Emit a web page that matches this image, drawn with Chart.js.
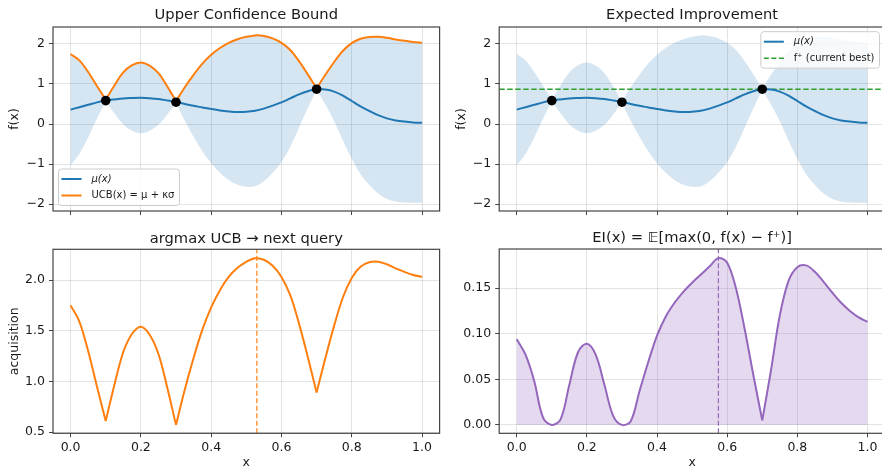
<!DOCTYPE html>
<html>
<head>
<meta charset="utf-8">
<script src="https://cdn.jsdelivr.net/npm/chart.js@4.4.0/dist/chart.umd.min.js"></script>
<style>
body { margin: 0; background: #fff; overflow: hidden; width: 882px; height: 470px; position: relative; }
canvas { position: absolute; }
</style>
</head>
<body>
<canvas id="ucbTop" width="445" height="235" style="left:0;top:0"></canvas>
<canvas id="eiTop" width="445" height="235" style="left:445px;top:0"></canvas>
<canvas id="ucbAcq" width="445" height="255" style="left:0;top:215px"></canvas>
<canvas id="eiAcq" width="445" height="255" style="left:445px;top:215px"></canvas>
<script>
// values
const xs = [0, 0.025, 0.05, 0.075, 0.1, 0.125, 0.15, 0.175, 0.2, 0.225, 0.25, 0.275, 0.3, 0.325, 0.35, 0.375, 0.4, 0.425, 0.45, 0.475,
            0.5, 0.525, 0.55, 0.575, 0.6, 0.625, 0.65, 0.675, 0.7, 0.725, 0.75, 0.775, 0.8, 0.825, 0.85, 0.875, 0.9, 0.925, 0.95, 0.975, 1.0];
const mu = [0.36, 0.42, 0.48, 0.54, 0.585, 0.615, 0.64, 0.65, 0.655, 0.645, 0.625, 0.59, 0.55, 0.50, 0.455, 0.415, 0.375, 0.34, 0.315, 0.30,
            0.305, 0.33, 0.385, 0.46, 0.54, 0.64, 0.74, 0.82, 0.87, 0.86, 0.81, 0.71, 0.575, 0.44, 0.325, 0.22, 0.14, 0.09, 0.06, 0.04, 0.03];
const ucb = [1.75, 1.59, 1.30, 0.95, 0.61, 0.97, 1.29, 1.47, 1.54, 1.46, 1.27, 0.94, 0.57, 0.92, 1.23, 1.51, 1.73, 1.90, 2.03, 2.12,
             2.18, 2.215, 2.20, 2.14, 2.03, 1.85, 1.57, 1.24, 0.89, 1.23, 1.55, 1.83, 2.02, 2.13, 2.175, 2.18, 2.155, 2.115, 2.08, 2.05, 2.03];
const lower = [-1.03, -0.75, -0.34, 0.13, 0.56, 0.26, -0.01, -0.17, -0.23, -0.17, -0.02, 0.24, 0.53, 0.08, -0.32, -0.68, -0.98, -1.22, -1.40, -1.52,
               -1.57, -1.555, -1.43, -1.22, -0.95, -0.57, -0.09, 0.40, 0.85, 0.49, 0.07, -0.41, -0.87, -1.25, -1.525, -1.74, -1.875, -1.935, -1.96, -1.97, -1.97];
const ei = [0.094, 0.077, 0.048, 0.008, 0.0, 0.006, 0.044, 0.080, 0.089, 0.077, 0.044, 0.010, 0.0, 0.004, 0.037, 0.069, 0.098, 0.119, 0.134, 0.146,
            0.156, 0.165, 0.174, 0.183, 0.178, 0.150, 0.105, 0.054, 0.005, 0.060, 0.120, 0.158, 0.173, 0.175, 0.168, 0.157, 0.145, 0.134, 0.125, 0.118, 0.113];
const obsX = [0.1, 0.3, 0.7];
const obsY = [0.585, 0.545, 0.87];
const fBest = 0.87;
const ucbNext = 0.53;
const eiNext = 0.575;

const xTicks = [0, 0.2, 0.4, 0.6, 0.8, 1.0];
const fTicks = [-2, -1, 0, 1, 2];
const acqTicks = [0.5, 1.0, 1.5, 2.0];
const eiTicks = [0, 0.05, 0.10, 0.15];

const BLUE = '#1f77b4', ORANGE = '#ff7f0e', GREEN = '#2ca02c', PURPLE = '#9467bd';
const BAND = 'rgba(31,119,180,0.19)';
const EIFILL = 'rgba(148,103,189,0.25)';
const GRID = 'rgba(176,176,176,0.35)';
const TICK = '#444';
const TXT = '#1a1a1a';
const FONT = '"DejaVu Sans", sans-serif';
const NONE = 'rgba(0,0,0,0)';
const TENSION = 0.35;

Chart.defaults.font.family = FONT;
Chart.defaults.font.size = 12.5;
Chart.defaults.color = TXT;

const pts = ys => xs.map((x, i) => ({x: x, y: ys[i]}));
const obsPts = obsX.map((x, i) => ({x: x, y: obsY[i]}));
const fmtMinus = d => v => (v < 0 ? '\u2212' : '') + Math.abs(v).toFixed(d);

// curves with kinks at observations: each piece between kinks is its own smooth line
const obsIdx = obsX.map(x => xs.indexOf(x));
function pieces(vals, idx) {
  const cuts = [0, ...idx, xs.length - 1];
  const out = [];
  for (let k = 0; k < cuts.length - 1; k++) {
    out.push(xs.slice(cuts[k], cuts[k + 1] + 1).map((x, j) => ({x: x, y: vals[cuts[k] + j]})));
  }
  return out;
}
function boundLines(color) {
  return pieces(ucb, obsIdx).map(p => ({label: 'UCB', data: p, borderColor: color, borderWidth: 2, pointRadius: 0, tension: TENSION}));
}
function bandSets() {
  const up = pieces(ucb, obsIdx), lo = pieces(lower, obsIdx), out = [];
  up.forEach((p, k) => {
    out.push({label: 'band', data: p, borderColor: NONE, borderWidth: 1, pointRadius: 0, tension: TENSION,
              fill: '+1', backgroundColor: BAND});
    out.push({label: 'band', data: lo[k], borderColor: NONE, borderWidth: 1, pointRadius: 0, tension: TENSION});
  });
  return out;
}
function eiLines() {
  return pieces(ei, [xs.indexOf(0.7)]).map(p => ({label: 'EI', data: p, borderColor: PURPLE, borderWidth: 2, pointRadius: 0,
                                                  tension: TENSION, fill: 'origin', backgroundColor: EIFILL}));
}

// frame, title and in-axes legend, drawn like matplotlib
const decor = {
  id: 'decor',
  afterDraw(chart, args, opts) {
    const ctx = chart.ctx, a = chart.chartArea;
    ctx.save();
    ctx.strokeStyle = '#444';
    ctx.lineWidth = 1.2;
    ctx.strokeRect(a.left, a.top, a.right - a.left, a.bottom - a.top);

    ctx.fillStyle = TXT;
    ctx.font = '14.7px ' + FONT;
    ctx.textAlign = 'center';
    ctx.textBaseline = 'middle';
    ctx.fillText(opts.title, (a.left + a.right) / 2, a.top - opts.gap);

    if (opts.legend) {
      const items = opts.legend.items;
      ctx.font = '10px ' + FONT;
      const tw = Math.max(...items.map(it => ctx.measureText(it.text).width));
      const w = 33 + tw + 5, h = 20 + (items.length - 1) * 16.5;
      const x0 = opts.legend.corner === 'lowerLeft' ? a.left + 5.5 : a.right - 5.5 - w;
      const y0 = opts.legend.corner === 'lowerLeft' ? a.bottom - 5.5 - h : a.top + 4.7;
      const r = 3;
      ctx.beginPath();
      ctx.moveTo(x0 + r, y0);
      ctx.lineTo(x0 + w - r, y0);
      ctx.arcTo(x0 + w, y0, x0 + w, y0 + r, r);
      ctx.lineTo(x0 + w, y0 + h - r);
      ctx.arcTo(x0 + w, y0 + h, x0 + w - r, y0 + h, r);
      ctx.lineTo(x0 + r, y0 + h);
      ctx.arcTo(x0, y0 + h, x0, y0 + h - r, r);
      ctx.lineTo(x0, y0 + r);
      ctx.arcTo(x0, y0, x0 + r, y0, r);
      ctx.closePath();
      ctx.fillStyle = 'rgba(255,255,255,0.8)';
      ctx.fill();
      ctx.strokeStyle = '#cccccc';
      ctx.lineWidth = 1;
      ctx.stroke();
      items.forEach((it, i) => {
        const cy = y0 + 10 + i * 16.5;
        ctx.strokeStyle = it.color;
        ctx.lineWidth = it.width;
        ctx.setLineDash(it.dash || []);
        ctx.beginPath();
        ctx.moveTo(x0 + 3, cy);
        ctx.lineTo(x0 + 23, cy);
        ctx.stroke();
        ctx.setLineDash([]);
        ctx.fillStyle = TXT;
        ctx.textAlign = 'left';
        ctx.font = (it.italic ? 'italic ' : '') + '10px ' + FONT;
        ctx.fillText(it.text, x0 + 33, cy);
      });
    }
    ctx.restore();
  }
};

function xScale(showLabels, height) {
  return {
    type: 'linear', min: -0.05, max: 1.05,
    afterBuildTicks: s => { s.ticks = xTicks.map(v => ({value: v})); },
    afterFit: s => { s.height = height; },
    grid: {color: GRID, tickColor: TICK, tickLength: 4},
    border: {display: false},
    ticks: {display: showLabels, callback: v => v.toFixed(1), padding: 3, autoSkip: false, maxRotation: 0},
    title: {display: showLabels, text: 'x', padding: {top: 0, bottom: 0}}
  };
}

function yScale(min, max, ticks, fmt, width, title, titlePad) {
  return {
    type: 'linear', min: min, max: max,
    afterBuildTicks: s => { s.ticks = ticks.map(v => ({value: v})); },
    afterFit: s => { s.width = width; },
    grid: {color: GRID, tickColor: TICK, tickLength: 4},
    border: {display: false},
    ticks: {callback: fmt, padding: 4, autoSkip: false},
    title: {display: !!title, text: title || '', padding: {top: titlePad, bottom: 0}}
  };
}

function baseOptions(scales, padding, decorOpts) {
  return {
    responsive: false,
    animation: false,
    devicePixelRatio: 1,
    layout: {padding: padding},
    scales: scales,
    plugins: {legend: {display: false}, tooltip: {enabled: false}, decor: decorOpts}
  };
}

const F_MIN = -2.175, F_MAX = 2.425;
const ACQ_MIN = 0.488, ACQ_MAX = 2.303;
const EI_MIN = -0.0092, EI_MAX = 0.193;

new Chart(document.getElementById('ucbTop'), {
  type: 'line',
  data: {
    datasets: [
      {label: 'observations', data: obsPts, showLine: false, pointRadius: 4.8, pointBackgroundColor: '#000', pointBorderWidth: 0},
      {label: '\u03bc(x)', data: pts(mu), borderColor: BLUE, borderWidth: 2, pointRadius: 0, tension: TENSION},
      ...boundLines(ORANGE),
      ...bandSets()
    ]
  },
  options: baseOptions(
    {x: xScale(false, 24), y: yScale(F_MIN, F_MAX, fTicks, fmtMinus(0), 53, 'f(x)', 7.5)},
    {left: 0, right: 5.4, top: 27, bottom: 0},
    {title: 'Upper Confidence Bound', gap: 11.5,
     legend: {corner: 'lowerLeft', items: [
       {text: '\u03bc(x)', color: BLUE, width: 2, italic: true},
       {text: 'UCB(x) = \u03bc + \u03ba\u03c3', color: ORANGE, width: 2}
     ]}}
  ),
  plugins: [decor]
});

new Chart(document.getElementById('eiTop'), {
  type: 'line',
  data: {
    datasets: [
      {label: 'observations', data: obsPts, showLine: false, pointRadius: 4.8, pointBackgroundColor: '#000', pointBorderWidth: 0},
      {label: '\u03bc(x)', data: pts(mu), borderColor: BLUE, borderWidth: 2, pointRadius: 0, tension: TENSION},
      {label: 'f\u207a (current best)', data: [{x: -0.05, y: fBest}, {x: 1.05, y: fBest}], borderColor: GREEN, borderWidth: 1.5,
       borderDash: [5.5, 2.5], pointRadius: 0},
      ...bandSets()
    ]
  },
  options: baseOptions(
    {x: xScale(false, 24), y: yScale(F_MIN, F_MAX, fTicks, fmtMinus(0), 54.2, 'f(x)', 9.2)},
    {left: 0, right: 5, top: 27, bottom: 0},
    {title: 'Expected Improvement', gap: 11.5,
     legend: {corner: 'upperRight', items: [
       {text: '\u03bc(x)', color: BLUE, width: 2, italic: true},
       {text: 'f\u207a (current best)', color: GREEN, width: 1.5, dash: [5, 2.5]}
     ]}}
  ),
  plugins: [decor]
});

new Chart(document.getElementById('ucbAcq'), {
  type: 'line',
  data: {
    datasets: [
      ...boundLines(ORANGE),
      {label: 'next', data: [{x: ucbNext, y: ACQ_MIN}, {x: ucbNext, y: ACQ_MAX}], borderColor: ORANGE, borderWidth: 1.2,
       borderDash: [5, 2.5], pointRadius: 0}
    ]
  },
  options: baseOptions(
    {x: xScale(true, 36.7), y: yScale(ACQ_MIN, ACQ_MAX, acqTicks, fmtMinus(1), 53, 'acquisition', 6.8)},
    {left: 0, right: 5.4, top: 34.3, bottom: 0},
    {title: 'argmax UCB \u2192 next query', gap: 10.5}
  ),
  plugins: [decor]
});

new Chart(document.getElementById('eiAcq'), {
  type: 'line',
  data: {
    datasets: [
      ...eiLines(),
      {label: 'next', data: [{x: eiNext, y: EI_MIN}, {x: eiNext, y: EI_MAX}], borderColor: PURPLE, borderWidth: 1.2,
       borderDash: [5, 2.5], pointRadius: 0}
    ]
  },
  options: baseOptions(
    {x: xScale(true, 36.7), y: yScale(EI_MIN, EI_MAX, eiTicks, fmtMinus(2), 54.2, '', 0)},
    {left: 0, right: 5, top: 34, bottom: 0},
    {title: 'EI(x) = \ud835\udd3c[max(0, f(x) \u2212 f\u207a)]', gap: 10.5}
  ),
  plugins: [decor]
});
</script>
</body>
</html>
